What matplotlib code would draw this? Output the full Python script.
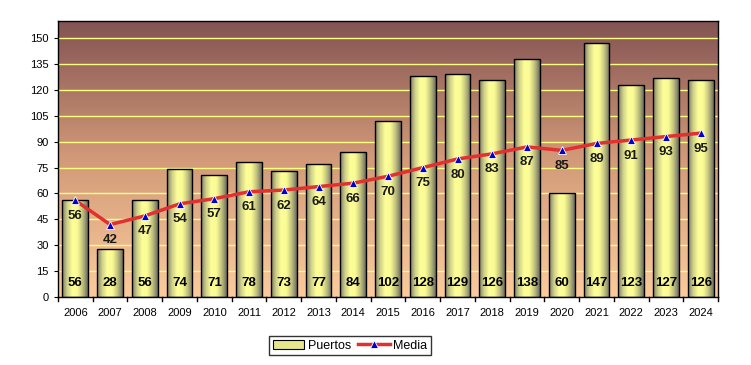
import matplotlib
matplotlib.use("Agg")
import matplotlib.pyplot as plt
import numpy as np
from matplotlib.colors import LinearSegmentedColormap
from matplotlib.lines import Line2D
from matplotlib.patches import Patch

plt.rcParams["font.family"] = ["Liberation Sans", "DejaVu Sans"]

years = [str(y) for y in range(2006, 2025)]
puertos = [56, 28, 56, 74, 71, 78, 73, 77, 84, 102, 128, 129, 126, 138, 60, 147, 123, 127, 126]
media = [56, 42, 47, 54, 57, 61, 62, 64, 66, 70, 75, 80, 83, 87, 85, 89, 91, 93, 95]
yticks = list(range(0, 151, 15))

fig = plt.figure(figsize=(7.51, 3.65), dpi=100)
ax = fig.add_axes([0.0772, 0.1863, 0.879, 0.7562])

x = np.arange(len(years))
ax.set_xlim(-0.5, len(years) - 0.5)
ax.set_ylim(0, 160)

# background gradient (plot area)
bg = LinearSegmentedColormap.from_list("bg", ["#fccb9c", "#d29a78", "#835353"])
ax.imshow(np.linspace(0, 1, 256).reshape(-1, 1), cmap=bg, origin="lower", aspect="auto",
          extent=(-0.5, len(years) - 0.5, 0, 160), zorder=0)

for t in yticks[1:]:
    ax.axhline(t, color="#ffff80", linewidth=1, zorder=1)

# cylinder-shaded bars
bar_cmap = LinearSegmentedColormap.from_list(
    "bar", ["#7a7a66", "#d0d088", "#ffff99", "#fafa94", "#c0c07e", "#6a6a5e"])
grad = np.linspace(0, 1, 256).reshape(1, -1)
width = 0.74
bars = ax.bar(x, puertos, width=width, facecolor="none", edgecolor="black", linewidth=1, zorder=3)
for b in bars:
    bx, by = b.get_x(), b.get_y()
    im = ax.imshow(grad, cmap=bar_cmap, aspect="auto", zorder=2,
                   extent=(bx, bx + b.get_width(), by, by + b.get_height()))
    im.set_clip_path(b)
ax.set_xlim(-0.5, len(years) - 0.5)
ax.set_ylim(0, 160)

for xi, v in zip(x, puertos):
    ax.text(xi, 8, str(v), ha="center", va="center", fontsize=9.5, fontweight="bold", zorder=6)

ax.plot(x, media, color="#e03030", linewidth=2.5, zorder=4)
ax.plot(x, media, linestyle="none", marker="^", markersize=6, markerfacecolor="#0000cc",
        markeredgecolor="white", markeredgewidth=0.6, zorder=5)
for xi, v in zip(x, media):
    ax.text(xi, v - 9, str(v), ha="center", va="center", fontsize=9.5, fontweight="bold",
            color="#1a1a1a", zorder=6)

ax.set_yticks(yticks)
ax.set_xticks(x)
ax.set_xticklabels(years)
ax.tick_params(axis="both", labelsize=8, length=3, color="black")
ax.tick_params(axis="x", length=0, pad=8)
for xb in np.arange(-0.5, len(years), 1.0):
    ax.plot([xb, xb], [0, -2.5], color="black", linewidth=1, clip_on=False, zorder=7)
for s in ax.spines.values():
    s.set_color("black")
    s.set_linewidth(1)

handles = [Patch(facecolor="#e6e68c", edgecolor="black", linewidth=0.8),
           Line2D([], [], color="#e03030", linewidth=2.5, marker="^", markersize=6,
                  markerfacecolor="#0000cc", markeredgecolor="white", markeredgewidth=0.6)]
fig.legend(handles, ["Puertos", "Media"], loc="center", bbox_to_anchor=(0.466, 0.053),
           ncol=2, fontsize=9, frameon=True, fancybox=False, edgecolor="black",
           handlelength=2.5, handletextpad=0.3, columnspacing=0.6, borderpad=0.3)

fig.savefig("out.png", dpi=100)
